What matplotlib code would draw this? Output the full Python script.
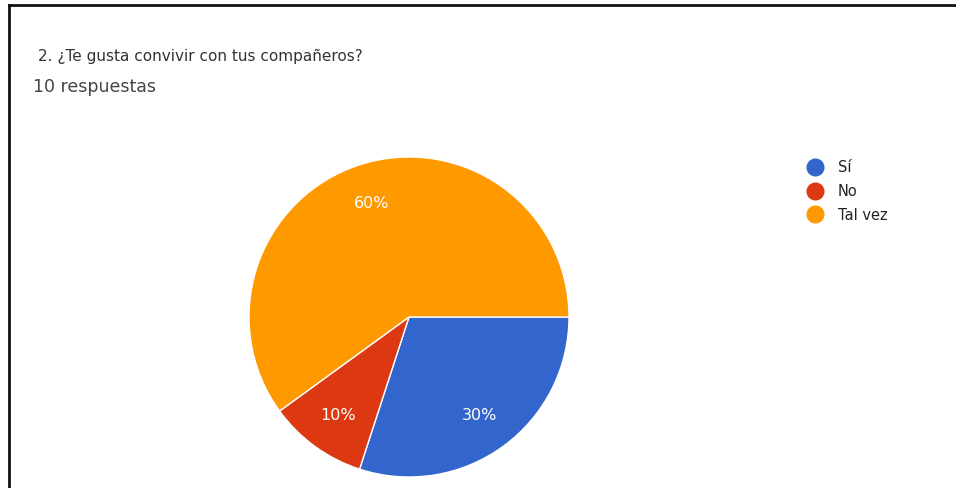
import matplotlib
matplotlib.use('Agg')
from matplotlib import pyplot as plt
from matplotlib.lines import Line2D

# datos de la encuesta
labels = ['Sí', 'No', 'Tal vez']
values = [3, 1, 6]
colors = ['#3366cc', '#dc3912', '#ff9900']
title = '2. ¿Te gusta convivir con tus compañeros?'
subtitle = '10 respuestas'

W, H = 956, 489
fig = plt.figure(figsize=(W / 100, H / 100), dpi=100)
fig.patch.set_facecolor('white')

# borde superior e izquierdo
fig.add_artist(Line2D([9 / W, 9 / W], [0, 1 - 6 / H], transform=fig.transFigure, color='#111111', lw=2))
fig.add_artist(Line2D([9 / W, 1], [1 - 6 / H, 1 - 6 / H], transform=fig.transFigure, color='#111111', lw=2))

fig.text(38 / W, 1 - 57 / H, title, fontsize=11, color='#333333', va='center')
fig.text(33 / W, 1 - 87 / H, subtitle, fontsize=12.5, color='#444444', va='center')

# pastel
cx, cy, r = 409, 318, 160
ax = fig.add_axes([(cx - r) / W, (H - cy - r) / H, 2 * r / W, 2 * r / H])
wedges, texts, autotexts = ax.pie(
    values, colors=colors, startangle=0, counterclock=False,
    autopct='%1.0f%%', pctdistance=0.75,
    wedgeprops={'edgecolor': 'white', 'linewidth': 1},
    textprops={'color': 'white', 'fontsize': 11.5}
)
ax.set_xlim(-1, 1)
ax.set_ylim(-1, 1)
ax.set_aspect('equal')
ax.axis('off')

# leyenda
for i, (lab, col) in enumerate(zip(labels, colors)):
    y = 1 - (168 + i * 23.5) / H
    fig.add_artist(Line2D([815 / W], [y], transform=fig.transFigure, marker='o',
                          markersize=12, color=col, lw=0))
    fig.text(838 / W, y, lab, fontsize=10.5, color='#222222', va='center')

fig.savefig('out.png', dpi=100)
